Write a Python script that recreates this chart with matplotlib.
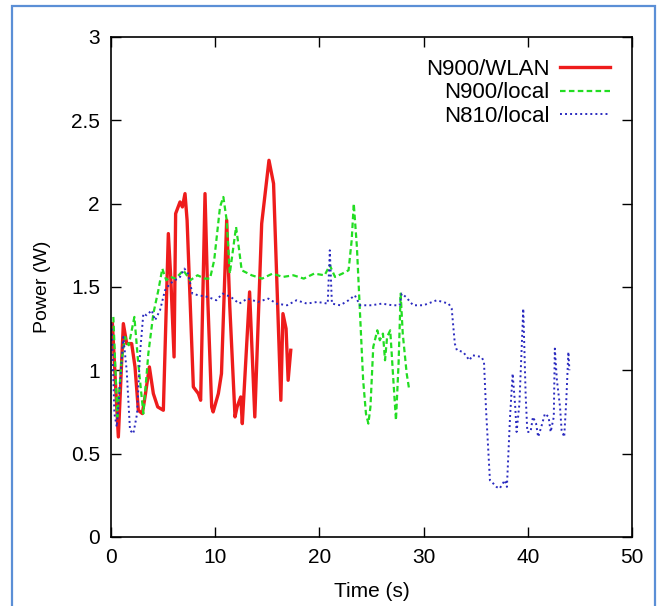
import matplotlib
matplotlib.use("Agg")
import matplotlib.pyplot as plt
from matplotlib.patches import Rectangle
from matplotlib import font_manager

# data (time in s, power in W)
t_wlan = [0.13, 0.4, 0.7, 1.18, 1.5, 1.98, 2.3, 2.62, 3.0, 3.26, 3.68, 4.06, 4.48, 5.02,
          5.5, 5.73, 6.05, 6.2, 6.62, 6.85, 7.1, 7.3, 7.9, 8.38, 8.6, 9.02, 9.3, 9.66,
          9.8, 10.3, 10.6, 11.1, 11.4, 11.9, 12.1, 12.45, 12.6, 13.3, 13.8, 14.46, 15.16,
          15.6, 16.3, 16.5, 16.8, 17.0, 17.25]
p_wlan = [1.28, 0.95, 0.60, 1.28, 1.16, 1.16, 1.02, 0.76, 0.74, 0.84, 1.02, 0.86, 0.78, 0.76,
          1.82, 1.56, 1.08, 1.94, 2.01, 1.98, 2.06, 1.90, 0.90, 0.86, 0.82, 2.06, 1.40, 0.78,
          0.75, 0.86, 0.98, 1.90, 1.38, 0.72, 0.78, 0.84, 0.68, 1.47, 0.72, 1.88, 2.26,
          2.12, 0.82, 1.34, 1.25, 0.94, 1.12]

t_n900 = [0.22, 0.6, 1.0, 1.34, 1.7, 2.24, 2.6, 3.1, 3.58, 4.06, 4.54, 4.92, 5.3, 5.7, 6.2,
          6.94, 7.6, 8.3, 9.0, 9.5, 9.9, 10.46, 10.78, 11.1, 11.4, 11.7, 12.0, 12.3, 12.54,
          13.5, 14.5, 15.5, 16.5, 17.5, 18.5, 19.5, 20.5, 21.0, 21.5, 22.2, 22.8, 23.1, 23.3,
          23.6, 23.9, 24.2, 24.47, 24.7, 24.9, 25.17, 25.56, 25.8, 26.1, 26.3, 26.5, 26.8,
          27.1, 27.35, 27.6, 27.8, 28.0, 28.38, 28.63]
p_n900 = [1.32, 0.72, 1.05, 1.20, 1.15, 1.32, 1.05, 0.74, 1.10, 1.34, 1.48, 1.61, 1.54, 1.56, 1.55,
          1.60, 1.54, 1.57, 1.55, 1.55, 1.66, 1.98, 2.04, 1.90, 1.58, 1.72, 1.86, 1.72, 1.60,
          1.57, 1.55, 1.58, 1.56, 1.57, 1.55, 1.58, 1.57, 1.63, 1.56, 1.58, 1.60, 1.78, 2.00,
          1.74, 1.34, 0.94, 0.74, 0.68, 0.78, 1.14, 1.24, 1.18, 1.22, 1.06, 1.20, 1.24,
          0.94, 0.70, 1.04, 1.46, 1.22, 0.98, 0.88]

t_n810 = [0.06, 0.32, 0.55, 0.9, 1.18, 1.5, 1.82, 2.14, 2.5, 2.78, 3.1, 3.42, 3.9, 4.22, 4.7,
          5.18, 5.66, 6.14, 6.62, 7.04, 7.4, 7.8, 8.38, 9.3, 10.1, 10.7, 11.5, 12.3, 13.1,
          14.1, 15.1, 15.9, 16.9, 17.8, 18.8, 19.8, 20.8, 21.0, 21.2, 22.0, 22.8, 23.4,
          23.9, 25.0, 26.0, 27.0, 27.7, 27.9, 28.3, 29.0, 30.0, 31.26, 32.4, 32.7, 33.0,
          33.2, 33.8, 34.4, 34.7, 35.57, 35.8, 36.0, 36.37, 36.7, 37.0, 37.3, 37.8, 38.0,
          38.3, 38.55, 38.8, 38.93, 39.2, 39.57, 39.8, 39.96, 40.27, 40.5, 40.8, 41.0,
          41.3, 41.65, 42.0, 42.2, 42.5, 42.6, 42.8, 43.1, 43.25, 43.5, 43.7, 43.9, 44.0]
p_n810 = [1.28, 0.74, 0.66, 0.95, 1.20, 1.00, 0.64, 0.62, 0.74, 1.10, 1.34, 1.33, 1.36, 1.30, 1.36,
          1.48, 1.52, 1.54, 1.56, 1.61, 1.58, 1.46, 1.45, 1.44, 1.42, 1.46, 1.44, 1.40, 1.43,
          1.41, 1.43, 1.40, 1.39, 1.42, 1.40, 1.41, 1.40, 1.72, 1.40, 1.39, 1.42, 1.45,
          1.39, 1.39, 1.40, 1.39, 1.39, 1.46, 1.44, 1.39, 1.39, 1.42, 1.40, 1.37, 1.16,
          1.12, 1.11, 1.06, 1.09, 1.08, 1.05, 0.76, 0.34, 0.32, 0.30, 0.29, 0.34, 0.30,
          0.72, 0.98, 0.78, 0.63, 0.80, 1.37, 0.85, 0.63, 0.63, 0.72, 0.68, 0.60,
          0.66, 0.74, 0.72, 0.63, 0.72, 1.13, 0.94, 0.78, 0.64, 0.60, 0.82, 1.11, 1.00]

names = [f.name for f in font_manager.fontManager.ttflist]
fam = "Liberation Sans Narrow" if "Liberation Sans Narrow" in names else "Liberation Sans"
plt.rcParams['font.family'] = [fam, 'DejaVu Sans']
plt.rcParams['font.size'] = 14

fig = plt.figure(figsize=(6.61, 6.06), dpi=100)
ax = fig.add_axes([0.168, 0.114, 0.788, 0.825])

ax.plot(t_wlan, p_wlan, color='#ee1c1c', lw=2.4, label='N900/WLAN')
ax.plot(t_n900, p_n900, color='#22dd22', lw=1.6, ls=(0, (2.5, 1.5)), label='N900/local')
ax.plot(t_n810, p_n810, color='#2a2abf', lw=1.4, ls=(0, (1, 1.6)), label='N810/local')

ax.set_xlim(0, 50)
ax.set_ylim(0, 3)
ax.set_xticks([0, 10, 20, 30, 40, 50])
ax.set_yticks([0, 0.5, 1, 1.5, 2, 2.5, 3])
ax.set_yticklabels(['0', '0.5', '1', '1.5', '2', '2.5', '3'])
ax.tick_params(direction='in', top=True, right=True, length=7, width=1, pad=8, labelsize=15)
for s in ax.spines.values():
    s.set_linewidth(1.2)
ax.set_xlabel('Time (s)', fontsize=15, labelpad=11)
ax.set_ylabel('Power (W)', labelpad=14)

ax.legend(loc='upper right', frameon=False, markerfirst=False, handlelength=2.25,
          labelspacing=0.1, borderaxespad=0.6, handletextpad=0.45, fontsize=16)

# slide frame
fig.patches.append(Rectangle((12 / 661, -0.05), 643 / 661, 1 - 6 / 606 + 0.05,
                             transform=fig.transFigure, fill=False, ec='#5b8fd6', lw=1.6))

fig.savefig('out.png', dpi=100)
